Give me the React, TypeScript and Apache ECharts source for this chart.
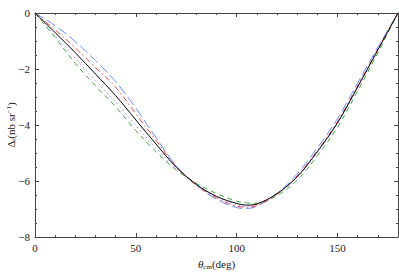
import React, { useEffect, useRef } from "react";
import * as echarts from "echarts";

const theta = [0, 10, 20, 30, 40, 50, 60, 70, 80, 90, 100, 105, 110, 120, 130, 140, 150, 160, 170, 180];
const black = [0, -0.7, -1.42, -2.18, -2.95, -3.82, -4.68, -5.5, -6.12, -6.55, -6.8, -6.86, -6.82, -6.45, -5.85, -4.95, -3.92, -2.64, -1.32, 0];
const blue = [0, -0.45, -1.02, -1.7, -2.45, -3.4, -4.45, -5.45, -6.15, -6.65, -6.95, -6.98, -6.9, -6.45, -5.75, -4.82, -3.77, -2.5, -1.22, 0];
const red = [0, -0.6, -1.25, -1.95, -2.65, -3.6, -4.55, -5.48, -6.15, -6.6, -6.9, -6.93, -6.88, -6.47, -5.82, -4.92, -3.88, -2.6, -1.29, 0];
const purple = [0, -0.82, -1.62, -2.42, -3.18, -4.02, -4.82, -5.55, -6.12, -6.55, -6.85, -6.9, -6.85, -6.47, -5.87, -4.98, -3.95, -2.66, -1.33, 0];
const green = [0, -0.88, -1.8, -2.6, -3.35, -4.2, -4.95, -5.6, -6.08, -6.45, -6.72, -6.78, -6.8, -6.52, -5.97, -5.1, -4.08, -2.78, -1.42, 0];

const xTickLabels = ["0", "50", "100", "150"];
const yTickLabels = ["0", "\u22122", "\u22124", "\u22126", "\u22128"];

const FONT = "Liberation Serif";
const AXIS_COLOR = "#444";
const TEXT_COLOR = "#222";

function pairs(ys: number[]) {
  return theta.map((t, i) => [t, ys[i]]);
}

export default function App() {
  const ref = useRef<HTMLDivElement>(null);
  useEffect(() => {
    if (!ref.current) return;
    const chart = echarts.init(ref.current, undefined, { renderer: "svg" });
    const axisLine = () => ({ show: true, onZero: false, lineStyle: { color: AXIS_COLOR, width: 1 } });
    const axisTick = () => ({ show: true, inside: true, length: 4, lineStyle: { color: AXIS_COLOR, width: 1 } });
    const minor = (n: number) => ({ show: true, splitNumber: n, length: 2, lineStyle: { color: AXIS_COLOR, width: 1 } });
    const fmtX = (v: number) => xTickLabels[Math.round(v / 50)] ?? "";
    const fmtY = (v: number) => yTickLabels[Math.round(-v / 2)] ?? "";
    const mkLine = (name: string, ys: number[], color: string, type: any, z: number) => ({
      name,
      type: "line",
      data: pairs(ys),
      smooth: 0.35,
      showSymbol: false,
      symbol: "none",
      lineStyle: { color, width: 1, type },
      z,
    });
    chart.setOption({
      animation: false,
      grid: { left: 35, right: 1, top: 13, bottom: 39, outerBoundsMode: "none", containLabel: false },
      xAxis: [
        {
          type: "value",
          min: 0,
          max: 180,
          interval: 50,
          position: "bottom",
          axisLine: axisLine(),
          axisTick: axisTick(),
          minorTick: minor(5),
          splitLine: { show: false },
          axisLabel: {
            formatter: fmtX,
            color: TEXT_COLOR,
            fontFamily: FONT,
            fontSize: 11,
            margin: 5,
            showMaxLabel: false,
          },
          name: "{i|θ}{sub|cm}{a|(deg)}",
          nameLocation: "middle",
          nameGap: 20,
          nameMoveOverlap: false,
          nameTextStyle: {
            rich: {
              i: { fontFamily: FONT, fontSize: 11, fontStyle: "italic", color: TEXT_COLOR, lineHeight: 14 },
              sub: { fontFamily: FONT, fontSize: 7, color: TEXT_COLOR, lineHeight: 14, padding: [5, 0, 0, 0] },
              a: { fontFamily: FONT, fontSize: 11, color: TEXT_COLOR, lineHeight: 14 },
            },
          },
        },
        {
          type: "value",
          min: 0,
          max: 180,
          interval: 50,
          position: "top",
          axisLine: axisLine(),
          axisTick: axisTick(),
          minorTick: minor(5),
          splitLine: { show: false },
          axisLabel: { show: false },
        },
      ],
      yAxis: [
        {
          type: "value",
          min: -8,
          max: 0,
          interval: 2,
          position: "left",
          axisLine: axisLine(),
          axisTick: axisTick(),
          minorTick: minor(4),
          splitLine: { show: false },
          axisLabel: {
            formatter: fmtY,
            color: TEXT_COLOR,
            fontFamily: FONT,
            fontSize: 11,
            margin: 5,
          },
          name: "{a|Δ}{sub|t}{a|(nb sr}{sup|−1}{a|)}",
          nameLocation: "middle",
          nameGap: 17,
          nameRotate: 90,
          nameMoveOverlap: false,
          nameTextStyle: {
            rich: {
              a: { fontFamily: FONT, fontSize: 11, color: TEXT_COLOR, lineHeight: 14 },
              sub: { fontFamily: FONT, fontSize: 7, color: TEXT_COLOR, lineHeight: 14, padding: [5, 0, 0, 0] },
              sup: { fontFamily: FONT, fontSize: 7, color: TEXT_COLOR, lineHeight: 14, padding: [0, 0, 5, 0] },
            },
          },
        },
        {
          type: "value",
          min: -8,
          max: 0,
          interval: 2,
          position: "right",
          axisLine: axisLine(),
          axisTick: axisTick(),
          minorTick: minor(4),
          splitLine: { show: false },
          axisLabel: { show: false },
        },
      ],
      series: [
        mkLine("green", green, "#3aa83a", [5, 4], 2),
        mkLine("purple", purple, "#9a86ff", [1.5, 3], 2),
        mkLine("blue", blue, "#6a8cff", [10, 4], 3),
        mkLine("red", red, "#ff4040", [6, 3, 1.5, 3], 4),
        mkLine("black", black, "#000000", "solid", 5),
      ],
    });
    return () => chart.dispose();
  }, []);
  return (
    <div
      ref={ref}
      style={{ position: "fixed", left: 0, top: 0, width: 399, height: 276, background: "#fff" }}
    />
  );
}
